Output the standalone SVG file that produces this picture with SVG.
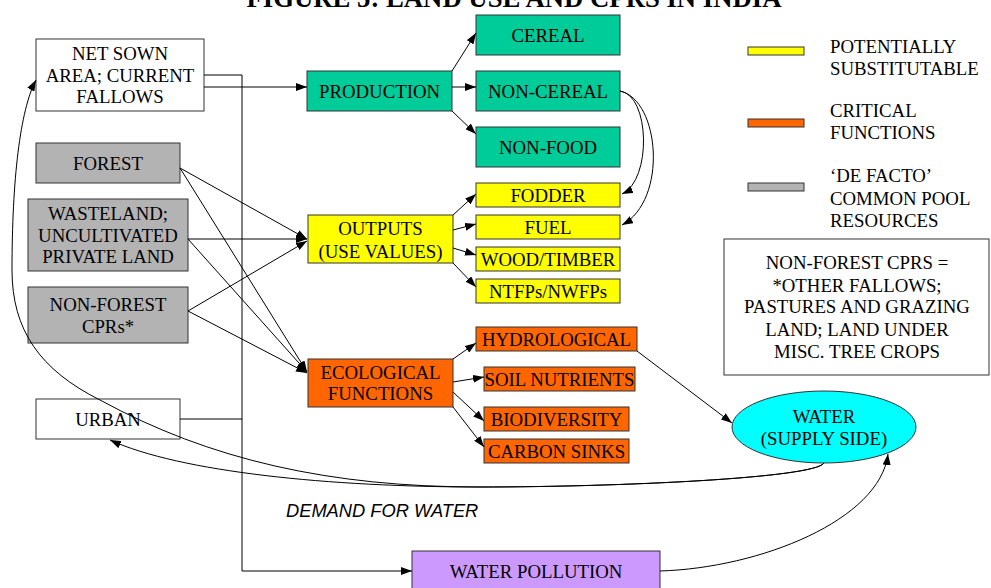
<svg xmlns="http://www.w3.org/2000/svg" width="991" height="588" viewBox="0 0 991 588">
<defs>
<style>
text{font-family:"Liberation Serif","Times New Roman",serif;font-size:18.8px;fill:#000;text-anchor:middle}
.l{text-anchor:start}
.box{stroke:#333;stroke-width:1}
.w{fill:#fff}.g{fill:#b3b3b3}.gr{fill:#00cc99}.y{fill:#ffff00}.o{fill:#ff6600}.p{fill:#cc99ff}.c{fill:#00ffff}
.cn path,.cn line,.cn polyline{fill:none;stroke:#000;stroke-width:1}
.a{marker-end:url(#ah)}
</style>
<marker id="ah" viewBox="0 0 10 8" refX="10" refY="4" markerWidth="11" markerHeight="8" markerUnits="userSpaceOnUse" orient="auto" preserveAspectRatio="none"><path d="M0,0 L10,4 L0,8 z" fill="#000"/></marker>
</defs>
<rect width="991" height="588" fill="#fff"/>
<text id="title" x="514" y="7" style="font-weight:bold;font-size:26.67px" textLength="535" lengthAdjust="spacingAndGlyphs">FIGURE 5: LAND USE AND CPRS IN INDIA</text>

<g id="net-sown"><rect class="box w" x="36" y="39" width="168" height="72"/><text x="120" y="60">NET SOWN</text><text x="120" y="82">AREA; CURRENT</text><text x="120" y="103">FALLOWS</text></g>
<g id="forest"><rect class="box g" x="36" y="143" width="144" height="40"/><text x="108" y="170">FOREST</text></g>
<g id="wasteland"><rect class="box g" x="28" y="199" width="160" height="72"/><text x="108" y="220">WASTELAND;</text><text x="108" y="242">UNCULTIVATED</text><text x="108" y="263">PRIVATE LAND</text></g>
<g id="nonforest"><rect class="box g" x="28" y="287" width="160" height="56"/><text x="108" y="311">NON-FOREST</text><text x="108" y="333">CPRs*</text></g>
<g id="urban"><rect class="box w" x="36" y="399" width="144" height="40"/><text x="108" y="426">URBAN</text></g>

<g id="production"><rect class="box gr" x="307" y="71" width="145" height="40"/><text x="379.5" y="98">PRODUCTION</text></g>
<g id="cereal"><rect class="box gr" x="476" y="15" width="144" height="40"/><text x="548" y="42">CEREAL</text></g>
<g id="noncereal"><rect class="box gr" x="476" y="71" width="144" height="40"/><text x="548" y="98">NON-CEREAL</text></g>
<g id="nonfood"><rect class="box gr" x="476" y="127" width="144" height="40"/><text x="548" y="154">NON-FOOD</text></g>

<g id="outputs"><rect class="box y" x="308" y="215" width="145" height="48"/><text x="380.5" y="235">OUTPUTS</text><text x="380.5" y="258">(USE VALUES)</text></g>
<g id="fodder"><rect class="box y" x="476" y="183" width="144" height="24"/><text x="548" y="202">FODDER</text></g>
<g id="fuel"><rect class="box y" x="476" y="215" width="144" height="24"/><text x="548" y="234">FUEL</text></g>
<g id="wood"><rect class="box y" x="476" y="247" width="144" height="24"/><text x="548" y="266">WOOD/TIMBER</text></g>
<g id="ntfp"><rect class="box y" x="476" y="279" width="144" height="24"/><text x="548" y="298">NTFPs/NWFPs</text></g>

<g id="ecological"><rect class="box o" x="308" y="359" width="145" height="48"/><text x="380.5" y="379">ECOLOGICAL</text><text x="380.5" y="400">FUNCTIONS</text></g>
<g id="hydro"><rect class="box o" x="476" y="327" width="161" height="24"/><text x="556.5" y="346">HYDROLOGICAL</text></g>
<g id="soil"><rect class="box o" x="484" y="367" width="151" height="24"/><text x="559.5" y="386">SOIL NUTRIENTS</text></g>
<g id="bio"><rect class="box o" x="484" y="407" width="145" height="24"/><text x="556.5" y="426">BIODIVERSITY</text></g>
<g id="carbon"><rect class="box o" x="484" y="439" width="145" height="24"/><text x="556.5" y="458">CARBON SINKS</text></g>

<g id="water"><ellipse class="box c" cx="824" cy="427" rx="92" ry="36"/><text x="824" y="423">WATER</text><text x="824" y="445">(SUPPLY SIDE)</text></g>
<g id="pollution"><rect class="box p" x="412" y="551" width="248" height="42"/><text x="536" y="578">WATER POLLUTION</text></g>

<g id="legend">
<rect class="box y" x="748" y="47" width="56" height="8"/><text class="l" x="830" y="53">POTENTIALLY</text><text class="l" x="830" y="75">SUBSTITUTABLE</text>
<rect class="box o" x="748" y="119" width="56" height="8"/><text class="l" x="830" y="117">CRITICAL</text><text class="l" x="830" y="139">FUNCTIONS</text>
<rect class="box g" x="748" y="183" width="56" height="8"/><text class="l" x="830" y="182">‘DE FACTO’</text><text class="l" x="830" y="205">COMMON POOL</text><text class="l" x="830" y="227">RESOURCES</text>
</g>
<g id="note"><rect class="box w" x="724" y="239" width="265" height="136"/><text x="857" y="269">NON-FOREST CPRS =</text><text x="857" y="292">*OTHER FALLOWS;</text><text x="857" y="313">PASTURES AND GRAZING</text><text x="857" y="336">LAND; LAND UNDER</text><text x="857" y="358">MISC. TREE CROPS</text></g>
<text id="demand" x="286" y="517" class="l" style="font-family:'Liberation Sans',Arial,sans-serif;font-style:italic;font-size:18.3px">DEMAND FOR WATER</text>

<g class="cn" id="connectors">
<polyline points="204,75 242,75 242,571 412,571" class="a"/>
<polyline points="180,419 242,419"/>
<line x1="204" y1="87" x2="307" y2="87" class="a"/>
<line x1="452" y1="71" x2="476" y2="33" class="a"/>
<line x1="452" y1="87" x2="476" y2="87" class="a"/>
<line x1="452" y1="111" x2="476" y2="134" class="a"/>
<path d="M620,91 C650,95 652,180 622,194" class="a"/>
<path d="M620,91 C660,100 668,200 622,225" class="a"/>
<line x1="180" y1="168" x2="307" y2="239" class="a"/>
<line x1="180" y1="168" x2="307" y2="372" class="a"/>
<line x1="188" y1="239" x2="307" y2="239" class="a"/>
<line x1="188" y1="239" x2="307" y2="372" class="a"/>
<line x1="188" y1="311" x2="307" y2="241" class="a"/>
<line x1="188" y1="311" x2="307" y2="373" class="a"/>
<line x1="453" y1="215" x2="476" y2="194" class="a"/>
<line x1="453" y1="230" x2="476" y2="224" class="a"/>
<line x1="453" y1="248" x2="476" y2="255" class="a"/>
<line x1="453" y1="263" x2="476" y2="287" class="a"/>
<line x1="453" y1="359" x2="476" y2="343" class="a"/>
<line x1="453" y1="382" x2="484" y2="377" class="a"/>
<line x1="453" y1="392" x2="484" y2="421" class="a"/>
<line x1="453" y1="407" x2="484" y2="447" class="a"/>
<line x1="637" y1="351" x2="732" y2="423" class="a"/>
<path d="M824,463 C815,478 620,487 480,487 C330,487 180,472 110,440" class="a"/>
<path d="M824,463 C815,478 620,487 480,487 C330,487 210,460 100,400 C40,370 12,330 12,270 C12,180 20,110 36,80" class="a"/>
<path d="M660,571 C760,568 880,520 888,454" class="a"/>
</g>
</svg>
